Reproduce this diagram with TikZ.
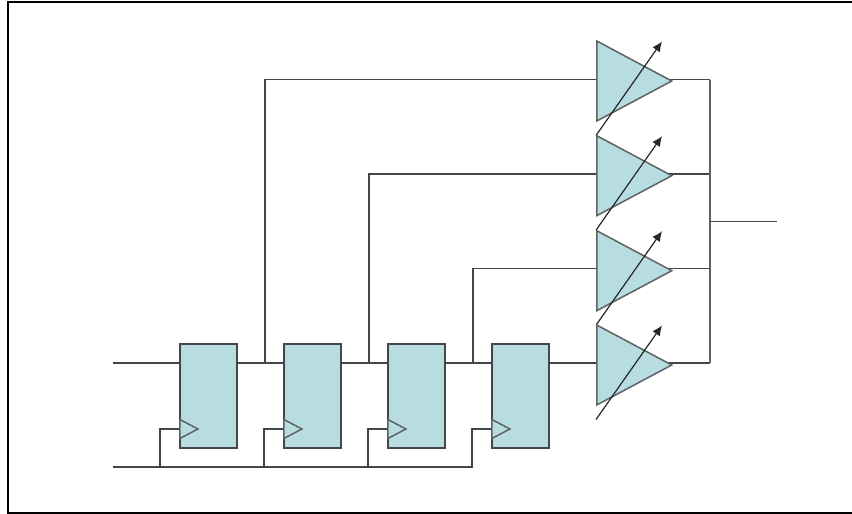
\documentclass[tikz,border=0pt]{standalone}
\usetikzlibrary{calc,arrows.meta,shapes.geometric}
\definecolor{cellfill}{RGB}{183,221,224}
\definecolor{wirecol}{RGB}{65,70,72}
\tikzset{
  wire/.style={draw=wirecol,line width=1.8pt},
  busline/.style={draw=wirecol!85,line width=2pt},
  regbox/.style={rectangle,draw=wirecol,fill=cellfill,line width=1.8pt,inner sep=0pt,
    minimum width=57pt,minimum height=104pt},
  ampbody/.style={isosceles triangle,isosceles triangle stretches,draw=wirecol!85,fill=cellfill,
    line width=1.5pt,inner sep=0pt,minimum width=80pt,minimum height=75pt,anchor=lower side},
  clkmark/.style={isosceles triangle,isosceles triangle stretches,draw=wirecol!85,fill=cellfill,
    line width=1.5pt,inner sep=0pt,minimum width=19pt,minimum height=18pt,anchor=lower side},
  gainarrow/.style={draw=black!85,line width=1.2pt,-{Latex[length=10pt,width=9pt]}}
}
\begin{document}
\begin{tikzpicture}[x=1pt,y=-1pt]
  \useasboundingbox (0,0) rectangle (852,514);
  % ramecek bez prave strany
  \draw[line width=2pt] (852,2) -- (8,2) -- (8,513) -- (852,513);
  \coordinate (din) at (113,363);
  \coordinate (clkin) at (113,467);
  \coordinate (clkend) at (473,467);
  \coordinate (dlast) at (596,363);
  \coordinate (busbot) at (709.5,363);
  \coordinate (bustop) at (709.5,79.5);
  \coordinate (busmid) at (709.5,221.5);
  \coordinate (dout) at (776.5,221.5);
  % rozvody pod bloky
  \draw[wire] (din) -- (dlast);
  \draw[wire] (clkin) -- (clkend);
  \foreach \n/\x in {1/265,2/369,3/473} {
    \coordinate (tap\n) at (\x,363);
  }
  \foreach \n/\y in {1/79.5,2/174,3/268.5,4/363} {
    \coordinate (in\n) at (596,\y);
    \coordinate (out\n) at (709.5,\y);
    \draw[wire] (in\n) -- (out\n);
  }
  \foreach \n in {1,2,3} \draw[wire] (tap\n) |- (in\n);
  \draw[busline] (bustop) -- (busbot);
  \draw[wire] (busmid) -- (dout);
  % registry
  \foreach \n/\x in {1/208.5,2/312.5,3/416.5,4/520.5} {
    \node[regbox] (reg\n) at (\x,396) {};
    \node[clkmark] (clk\n) at ($(reg\n.west |- 0,429)$) {};
    \coordinate (cs\n) at ($(reg\n.west |- clkin)+(-19,0)$);
    \draw[wire] (cs\n) |- (clk\n.lower side);
  }
  % zesilovace s promennym ziskem
  \foreach \n/\y in {1/81,2/175.7,3/270.7,4/365} {
    \node[ampbody] (amp\n) at (596,\y) {};
    \coordinate (gs\n) at (596,\y+54.5);
    \coordinate (ge\n) at (662,\y-39.5);
    \draw[gainarrow] (gs\n) -- (ge\n);
  }
\end{tikzpicture}
\end{document}
